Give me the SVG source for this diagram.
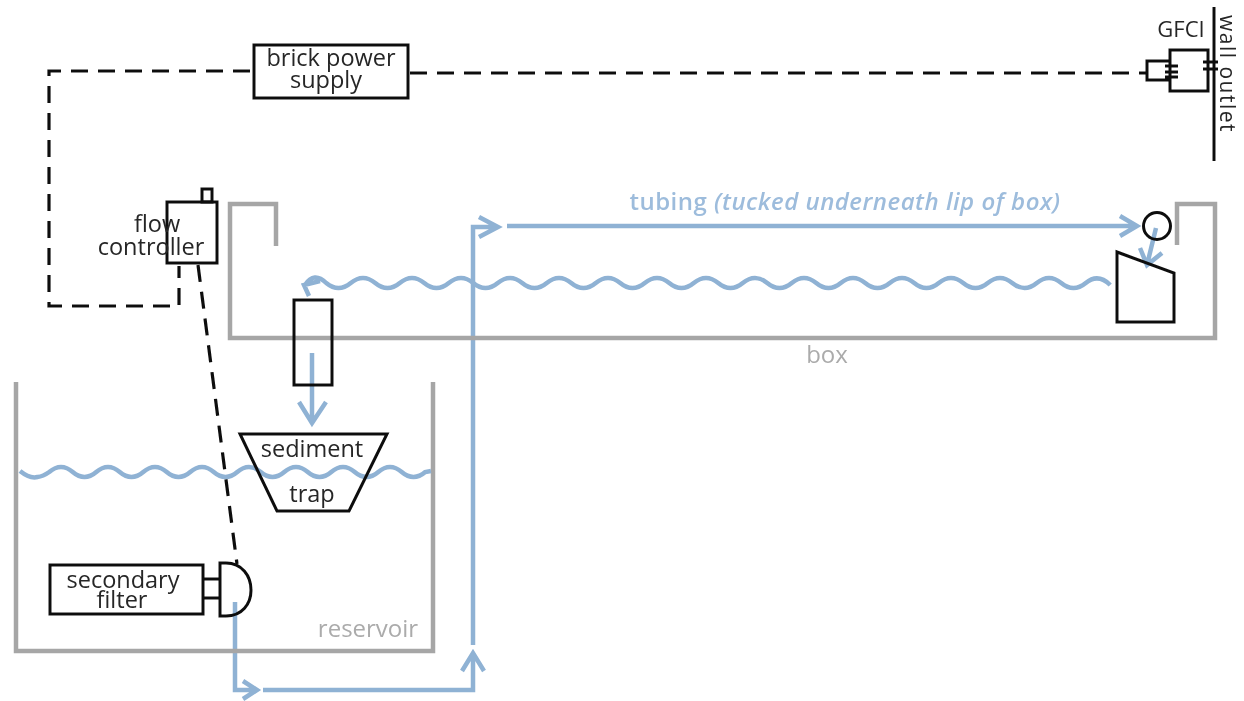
<svg xmlns="http://www.w3.org/2000/svg" width="1244" height="701" viewBox="0 0 1244 701">
<defs><filter id="soft" x="0" y="0" width="1244" height="701" filterUnits="userSpaceOnUse"><feGaussianBlur stdDeviation="0.45"/></filter></defs>
<style>
text{font-family:"Open Sans","Noto Sans",sans-serif;font-size:23.5px;text-anchor:middle}
.k{fill:#262626;font-weight:500}
.g{fill:#ababab;font-weight:500;font-size:24px}
.bl{fill:none;stroke:#111;stroke-width:3}
.gr{fill:none;stroke:#a6a6a6;stroke-width:4.5}
.b{fill:none;stroke:#8fb2d4;stroke-width:4.5}
.d{fill:none;stroke:#111;stroke-width:3.2;stroke-dasharray:17 10}
</style>
<rect width="1244" height="701" fill="#fff"/>
<g filter="url(#soft)">
<g id="connectors">
<path class="d" d="M250 71H49V306H179V266"/>
<path class="d" d="M410 73H1147"/>
<path class="d" d="M198 265L237 564"/>
<path class="b" d="M235 602V690H257M243 681L257 690L243 699"/>
<path class="b" d="M263 690H473V653M462 671L473 653L484 671"/>
<path class="b" d="M473 645V227H497M479 217L498 227L479 237"/>
<path class="b" d="M507 226H1136M1120 216L1137 226L1120 236"/>
<path class="b" d="M1156 228L1147 265M1140 248L1147 265L1162 253"/>
<path class="b" d="M312 353V423M299 402L312 423L326 402"/>
<path class="b" d="M1110.25 285Q1098 273 1085.75 283t-24.5 0t-24.5 0t-24.5 0t-24.5 0t-24.5 0t-24.5 0t-24.5 0t-24.5 0t-24.5 0t-24.5 0t-24.5 0t-24.5 0t-24.5 0t-24.5 0t-24.5 0t-24.5 0t-24.5 0t-24.5 0t-24.5 0t-24.5 0t-24.5 0t-24.5 0t-24.5 0t-24.5 0t-24.5 0t-24.5 0t-24.5 0t-24.5 0t-24.5 0t-24.5 0t-24.5 0Q314 271 305 285M320 281L304 285L309 296"/>
</g>
<g id="box"><path class="gr" d="M276 246V204H230V338H1215V204H1177V245"/><text class="g" x="827" y="363">box</text></g>
<g id="reservoir"><path class="gr" d="M16 382V651H433V382"/><text class="g" x="368" y="637">reservoir</text></g>
<path id="water" class="b" d="M20 471Q30 479 37.5 477Q43 476.5 49.25 472q11.75 -10 23.5 0t23.5 0t23.5 0t23.5 0t23.5 0t23.5 0t23.5 0t23.5 0t23.5 0t23.5 0t23.5 0t23.5 0t23.5 0t23.5 0t23.5 0t23.5 0L431 471"/>
<g id="brick-power-supply"><rect class="bl" x="254" y="45" width="154" height="53"/><text class="k" x="331" y="66">brick power</text><text class="k" x="326" y="88">supply</text></g>
<g id="gfci"><rect class="bl" x="1170" y="50" width="38" height="41"/><path class="bl" d="M1170 61H1147V80H1170M1165 66H1178M1165 72H1178M1165 77H1178M1203 62H1218M1203 69H1218"/><text class="k" x="1181" y="37" style="font-size:22px">GFCI</text></g>
<g id="wall-outlet"><path class="bl" d="M1214 7V161"/><text class="k" transform="translate(1220 74) rotate(90)" style="font-size:21px;letter-spacing:1.5px">wall outlet</text></g>
<g id="flow-controller"><rect class="bl" x="167" y="202" width="50" height="61"/><rect class="bl" x="202" y="189" width="10" height="13"/><text class="k" x="157" y="232">flow</text><text class="k" x="151" y="255">controller</text></g>
<g id="pump"><circle class="bl" cx="1157" cy="226" r="13.5"/><path class="bl" d="M1117 252L1174 273V322H1117Z"/></g>
<g id="outlet-tube"><rect class="bl" x="294" y="300" width="38" height="85"/></g>
<g id="sediment-trap"><path class="bl" d="M240 434H387L349 511H277Z"/><text class="k" x="312" y="457">sediment</text><text class="k" x="312" y="502">trap</text></g>
<g id="secondary-filter"><rect class="bl" x="50" y="565" width="153" height="49"/><path class="bl" d="M203 579H220M203 598H220M220 563V616H226C242 616 251 604 251 590C251 576 242 563 226 563Z"/><text class="k" x="123" y="588">secondary</text><text class="k" x="122" y="608">filter</text></g>
<text id="tubing-label" x="845" y="210" fill="#9dbcdc" style="font-size:24px;letter-spacing:.5px;font-weight:600">tubing <tspan font-style="italic">(tucked underneath lip of box)</tspan></text>
</g>
</svg>
